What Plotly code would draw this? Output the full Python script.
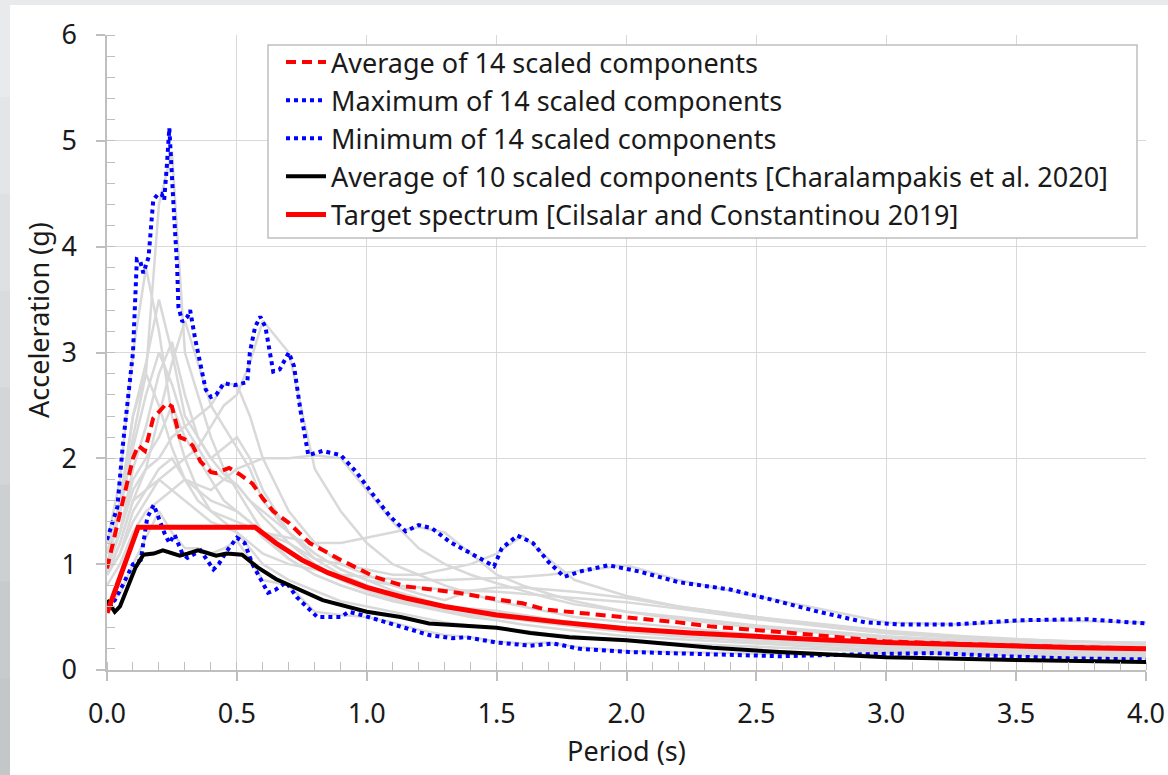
import plotly.graph_objects as go

# ---------------- data ----------------
# Target spectrum [Cilsalar and Constantinou 2019]
target_T = [0, 0.12, 0.57, 0.65, 0.75, 0.85, 1.0, 1.15, 1.3, 1.5, 1.75, 2.0, 2.25, 2.5, 2.75, 3.0, 3.25, 3.5, 3.75, 4.0]
target_S = [0.54, 1.35, 1.35, 1.2, 1.04, 0.92, 0.78, 0.68, 0.6, 0.52, 0.45, 0.39, 0.35, 0.315, 0.285, 0.26, 0.24, 0.225, 0.21, 0.2]

# Average of 14 scaled components
avg14_T = [0, 0.05, 0.1, 0.12, 0.146, 0.178, 0.2, 0.23, 0.25, 0.28, 0.31, 0.33, 0.36, 0.40, 0.42, 0.47, 0.51, 0.56, 0.6, 0.64,
           0.70, 0.78, 0.9, 1.03, 1.15, 1.22, 1.35, 1.47, 1.6, 1.69, 1.82, 2.0, 2.2, 2.33, 2.59, 3.0, 3.5, 4.0]
avg14_S = [0.96, 1.48, 2.0, 2.12, 2.07, 2.38, 2.44, 2.52, 2.49, 2.2, 2.17, 2.12, 1.97, 1.87, 1.86, 1.91, 1.85, 1.76, 1.62, 1.5,
           1.39, 1.2, 1.04, 0.88, 0.79, 0.77, 0.73, 0.68, 0.63, 0.57, 0.54, 0.5, 0.45, 0.41, 0.36, 0.27, 0.23, 0.2]

# Maximum of 14 scaled components
max_T = [0, 0.04, 0.06, 0.08, 0.1, 0.115, 0.127, 0.14, 0.16, 0.178, 0.197, 0.21, 0.22, 0.23, 0.24, 0.255, 0.27, 0.275,
         0.29, 0.31, 0.32, 0.34, 0.36, 0.38, 0.40, 0.42, 0.45, 0.49, 0.54, 0.55, 0.57, 0.59, 0.61, 0.63, 0.64, 0.665,
         0.70, 0.72, 0.745, 0.775, 0.83, 0.9, 0.96, 1.02, 1.09, 1.15, 1.2, 1.25, 1.32, 1.41, 1.49, 1.52, 1.58, 1.64,
         1.70, 1.76, 1.82, 1.93, 2.05, 2.2, 2.4, 2.55, 2.74, 2.92, 3.06, 3.25, 3.51, 3.77, 4.0]
max_S = [1.23, 1.54, 2.1, 2.58, 3.0, 3.88, 3.87, 3.75, 3.9, 4.44, 4.5, 4.5, 4.44, 4.75, 5.12, 4.44, 3.81, 3.43,
         3.29, 3.34, 3.4, 3.12, 2.9, 2.65, 2.58, 2.6, 2.71, 2.69, 2.72, 3.0, 3.24, 3.34, 3.24, 2.96, 2.82, 2.84,
         3.0, 2.87, 2.45, 2.03, 2.07, 2.03, 1.87, 1.67, 1.45, 1.31, 1.37, 1.34, 1.21, 1.09, 0.98, 1.15, 1.27, 1.2,
         1.02, 0.88, 0.93, 0.99, 0.93, 0.83, 0.76, 0.67, 0.55, 0.45, 0.43, 0.43, 0.47, 0.48, 0.44]

# Minimum of 14 scaled components
min_T = [0, 0.03, 0.06, 0.1, 0.13, 0.155, 0.18, 0.2, 0.22, 0.24, 0.26, 0.29, 0.31, 0.36, 0.41, 0.43, 0.46, 0.5, 0.53,
         0.56, 0.6, 0.62, 0.65, 0.69, 0.73, 0.77, 0.81, 0.9, 0.93, 0.98, 1.05, 1.13, 1.24, 1.33, 1.38, 1.5, 1.63,
         1.72, 1.82, 2.01, 2.2, 2.59, 2.93, 3.19, 3.45, 3.7, 4.0]
min_S = [0.6, 0.66, 0.8, 1.0, 1.04, 1.44, 1.56, 1.42, 1.3, 1.2, 1.28, 1.1, 1.06, 1.13, 0.95, 1.0, 1.12, 1.25, 1.2,
         1.0, 0.82, 0.73, 0.76, 0.83, 0.69, 0.6, 0.5, 0.5, 0.55, 0.52, 0.47, 0.41, 0.33, 0.3, 0.31, 0.26, 0.23,
         0.25, 0.2, 0.17, 0.16, 0.13, 0.15, 0.16, 0.13, 0.11, 0.10]

# Average of 10 scaled components [Charalampakis et al. 2020]
avg10_T = [0, 0.03, 0.05, 0.08, 0.11, 0.14, 0.18, 0.215, 0.25, 0.28, 0.31, 0.35, 0.38, 0.42, 0.46, 0.5, 0.52, 0.55,
           0.58, 0.65, 0.72, 0.83, 1.0, 1.13, 1.24, 1.5, 1.63, 1.78, 2.0, 2.2, 2.33, 2.59, 3.0, 3.5, 4.0]
avg10_S = [0.66, 0.55, 0.6, 0.78, 0.97, 1.09, 1.1, 1.13, 1.1, 1.08, 1.1, 1.13, 1.11, 1.08, 1.1, 1.09, 1.09, 1.03,
           0.97, 0.86, 0.78, 0.66, 0.55, 0.5, 0.44, 0.4, 0.35, 0.31, 0.28, 0.24, 0.21, 0.17, 0.12, 0.095, 0.075]

# 14 individual scaled components (grey)
gray_T = [0, 0.05, 0.1, 0.15, 0.2, 0.25, 0.3, 0.35, 0.4, 0.45, 0.5, 0.55, 0.6, 0.7, 0.8, 0.9, 1.0, 1.1, 1.2, 1.3,
          1.4, 1.5, 1.6, 1.7, 1.8, 2.0, 2.2, 2.5, 2.8, 3.0, 3.3, 3.6, 4.0]
g01 = [1.1, 1.5, 2.2, 2.8, 4.4, 4.9, 3.0, 2.6, 2.2, 1.9, 1.7, 1.5, 1.3, 1.05, 0.9, 0.8, 0.72, 0.65, 0.6, 0.55,
       0.5, 0.47, 0.43, 0.4, 0.37, 0.32, 0.29, 0.25, 0.21, 0.19, 0.17, 0.15, 0.13]
g02 = [1.2, 1.8, 3.0, 3.8, 3.2, 2.4, 2.0, 1.7, 1.5, 1.4, 1.3, 1.15, 1.0, 0.85, 0.75, 0.65, 0.6, 0.55, 0.5, 0.45,
       0.42, 0.4, 0.37, 0.34, 0.32, 0.28, 0.25, 0.22, 0.19, 0.17, 0.15, 0.14, 0.12]
g03 = [0.9, 1.2, 1.6, 1.9, 2.4, 2.9, 3.3, 2.9, 2.5, 2.3, 2.1, 1.9, 1.6, 1.3, 1.1, 0.95, 0.85, 0.75, 0.68, 0.6,
       0.55, 0.5, 0.47, 0.44, 0.41, 0.36, 0.32, 0.27, 0.23, 0.21, 0.19, 0.17, 0.15]
g04 = [0.9, 1.1, 1.4, 1.6, 1.8, 1.9, 2.0, 2.1, 2.3, 2.5, 2.6, 2.9, 3.3, 3.0, 1.9, 1.5, 1.2, 1.0, 0.9, 0.8,
       0.72, 0.65, 0.6, 0.55, 0.5, 0.45, 0.4, 0.33, 0.28, 0.25, 0.22, 0.2, 0.17]
g05 = [0.8, 1.0, 1.3, 1.5, 1.6, 1.7, 1.8, 1.75, 1.7, 1.8, 1.9, 1.95, 2.0, 2.0, 2.03, 2.0, 1.7, 1.4, 1.15, 1.0,
       0.9, 0.82, 0.75, 0.68, 0.62, 0.55, 0.5, 0.42, 0.36, 0.32, 0.28, 0.25, 0.22]
g06 = [1.0, 1.3, 1.8, 2.0, 2.2, 2.5, 2.2, 2.0, 1.8, 1.6, 1.5, 1.4, 1.3, 1.25, 1.2, 1.2, 1.25, 1.3, 1.35, 1.3,
       1.1, 0.9, 0.8, 0.72, 0.65, 0.55, 0.48, 0.4, 0.34, 0.3, 0.27, 0.24, 0.2]
g07 = [0.9, 1.2, 1.6, 1.7, 1.9, 2.0, 1.8, 1.6, 1.5, 1.45, 1.4, 1.35, 1.3, 1.2, 1.05, 1.0, 0.95, 0.9, 0.9, 0.95,
       1.0, 1.1, 1.27, 1.05, 0.85, 0.7, 0.6, 0.5, 0.42, 0.37, 0.32, 0.28, 0.24]
g08 = [0.9, 1.1, 1.5, 1.7, 1.8, 1.7, 1.6, 1.5, 1.4, 1.35, 1.3, 1.2, 1.1, 1.0, 0.95, 0.9, 0.88, 0.86, 0.85, 0.85,
       0.86, 0.87, 0.88, 0.9, 0.93, 0.99, 0.85, 0.7, 0.55, 0.45, 0.43, 0.47, 0.45]
g09 = [0.62, 0.72, 1.0, 1.25, 1.5, 1.3, 1.15, 1.15, 1.1, 1.15, 1.22, 1.05, 0.85, 0.8, 0.55, 0.52, 0.5, 0.45, 0.38, 0.33,
       0.31, 0.27, 0.25, 0.26, 0.22, 0.18, 0.17, 0.15, 0.14, 0.16, 0.16, 0.13, 0.11]
g10 = [1.0, 1.5, 2.1, 2.6, 3.0, 2.7, 2.3, 2.1, 1.9, 1.8, 1.75, 1.6, 1.45, 1.2, 1.0, 0.85, 0.75, 0.68, 0.62, 0.58,
       0.56, 0.55, 0.52, 0.48, 0.45, 0.4, 0.36, 0.31, 0.26, 0.24, 0.22, 0.2, 0.18]
g11 = [1.1, 1.6, 2.4, 2.9, 3.5, 3.0, 2.4, 2.2, 2.0, 2.1, 2.2, 2.0, 1.7, 1.3, 1.05, 0.9, 0.8, 0.7, 0.62, 0.56,
       0.52, 0.5, 0.48, 0.45, 0.42, 0.38, 0.34, 0.29, 0.25, 0.22, 0.2, 0.18, 0.16]
g12 = [1.0, 1.3, 1.7, 1.9, 2.0, 2.2, 2.3, 2.4, 2.5, 2.7, 2.7, 2.4, 2.0, 1.5, 1.2, 1.0, 0.9, 0.8, 0.72, 0.66,
       0.75, 0.78, 0.78, 0.76, 0.74, 0.68, 0.6, 0.5, 0.4, 0.35, 0.3, 0.27, 0.26]
g13 = [1.0, 1.5, 2.4, 2.8, 2.5, 2.1, 1.8, 1.7, 1.6, 1.55, 1.5, 1.4, 1.25, 1.05, 0.9, 0.8, 0.72, 0.66, 0.62, 0.6,
       0.58, 0.56, 0.52, 0.48, 0.45, 0.4, 0.35, 0.3, 0.26, 0.23, 0.2, 0.18, 0.15]
g14 = [0.95, 1.3, 1.9, 2.3, 2.8, 3.1, 2.6, 2.2, 2.0, 1.85, 1.75, 1.6, 1.5, 1.3, 1.1, 0.95, 0.85, 0.8, 0.78, 0.76,
       0.75, 0.74, 0.72, 0.7, 0.68, 0.64, 0.58, 0.48, 0.4, 0.35, 0.31, 0.28, 0.25]
gray_sets = [g01, g02, g03, g04, g05, g06, g07, g08, g09, g10, g11, g12, g13, g14]

x_ticks = [0, 0.5, 1.0, 1.5, 2.0, 2.5, 3.0, 3.5, 4.0]
y_ticks = [0, 1, 2, 3, 4, 5, 6]

# ---------------- figure ----------------
FONT = "Noto Sans"
TXT = "#1a1a1a"
fig = go.Figure()

for g in gray_sets:
    fig.add_trace(go.Scatter(x=gray_T, y=g, mode="lines", showlegend=False, hoverinfo="skip",
                             line=dict(color="#d9d9d9", width=2.5)))

fig.add_trace(go.Scatter(x=avg14_T, y=avg14_S, mode="lines", name="Average of 14 scaled components",
                         line=dict(color="#ff0000", width=4, dash="10px,6px")))
fig.add_trace(go.Scatter(x=max_T, y=max_S, mode="lines", name="Maximum of 14 scaled components",
                         line=dict(color="#0000ff", width=4, dash="4px,4px")))
fig.add_trace(go.Scatter(x=min_T, y=min_S, mode="lines", name="Minimum of 14 scaled components",
                         line=dict(color="#0000ff", width=4, dash="4px,4px")))
fig.add_trace(go.Scatter(x=avg10_T, y=avg10_S, mode="lines",
                         name="Average of 10 scaled components [Charalampakis et al. 2020]",
                         line=dict(color="#000000", width=4)))
fig.add_trace(go.Scatter(x=target_T, y=target_S, mode="lines",
                         name="Target spectrum [Cilsalar and Constantinou 2019]",
                         line=dict(color="#ff0000", width=5)))

W, H = 1168, 775
L, R, T, B = 107, 22, 35, 105
pw, ph = W - L - R, H - T - B


def px(xp):
    return (xp - L) / pw


def py(yp):
    return (H - B - yp) / ph


shapes = []
# left grey band with a soft vertical gradient
band_cols = ["#e9eaeb", "#e4e5e6", "#dfe0e1", "#d9dbdc", "#d3d5d6", "#cdd0d1", "#c8cbcc", "#c4c7c8"]
n = len(band_cols)
for i, c in enumerate(band_cols):
    shapes.append(dict(type="rect", xref="paper", yref="paper", layer="below",
                       x0=px(0), x1=px(10), y0=py(i * H / n), y1=py((i + 1) * H / n + 1),
                       fillcolor=c, line=dict(width=0)))
# white card
shapes.append(dict(type="rect", xref="paper", yref="paper", layer="below",
                   x0=px(10), x1=px(W + 5), y0=py(5), y1=py(H + 5),
                   fillcolor="white", line=dict(width=0)))
# legend frame (drawn above the curves, the legend text sits on top)
shapes.append(dict(type="rect", xref="paper", yref="paper", layer="above",
                   x0=px(268), x1=px(1137), y0=py(45), y1=py(238),
                   fillcolor="white", line=dict(color="#bfbfbf", width=1.5)))

fig.update_layout(
    width=W, height=H,
    margin=dict(l=L, r=R, t=T, b=B),
    paper_bgcolor="#e9eaeb",
    plot_bgcolor="rgba(0,0,0,0)",
    font=dict(family=FONT, color=TXT, size=27),
    shapes=shapes,
    showlegend=True,
    legend=dict(x=px(281), y=py(38), xanchor="left", yanchor="top",
                bgcolor="rgba(0,0,0,0)", borderwidth=0,
                font=dict(family=FONT, size=27, color=TXT),
                traceorder="normal", itemwidth=40, tracegroupgap=0),
    xaxis=dict(range=[0, 4], tickvals=x_ticks, tickformat=".1f", automargin=False,
               showgrid=True, gridcolor="#d9d9d9", gridwidth=1,
               showline=True, linecolor="#bfbfbf", linewidth=1.5,
               ticks="outside", ticklen=9, tickcolor="#bfbfbf", tickwidth=1.5,
               minor=dict(dtick=0.1, ticks="inside", ticklen=8, tickcolor="#bfbfbf", tickwidth=1.2, showgrid=False),
               tickfont=dict(size=27, family=FONT, color=TXT), ticklabelstandoff=10,
               title=dict(text="Period (s)", font=dict(size=27, family=FONT, color=TXT), standoff=12),
               zeroline=False, fixedrange=True),
    yaxis=dict(range=[0, 6], tickvals=y_ticks, automargin=False,
               showgrid=True, gridcolor="#d9d9d9", gridwidth=1,
               showline=True, linecolor="#bfbfbf", linewidth=1.5,
               ticks="outside", ticklen=9, tickcolor="#bfbfbf", tickwidth=1.5,
               minor=dict(dtick=0.2, ticks="inside", ticklen=8, tickcolor="#bfbfbf", tickwidth=1.2, showgrid=False),
               tickfont=dict(size=27, family=FONT, color=TXT), ticklabelstandoff=14,
               zeroline=False, fixedrange=True),
    annotations=[dict(text="Acceleration (g)", xref="paper", yref="paper", x=px(38), y=py(320),
                      xanchor="center", yanchor="middle", textangle=-90, showarrow=False,
                      font=dict(size=27, family=FONT, color=TXT))],
)

fig.write_html("out.html")
